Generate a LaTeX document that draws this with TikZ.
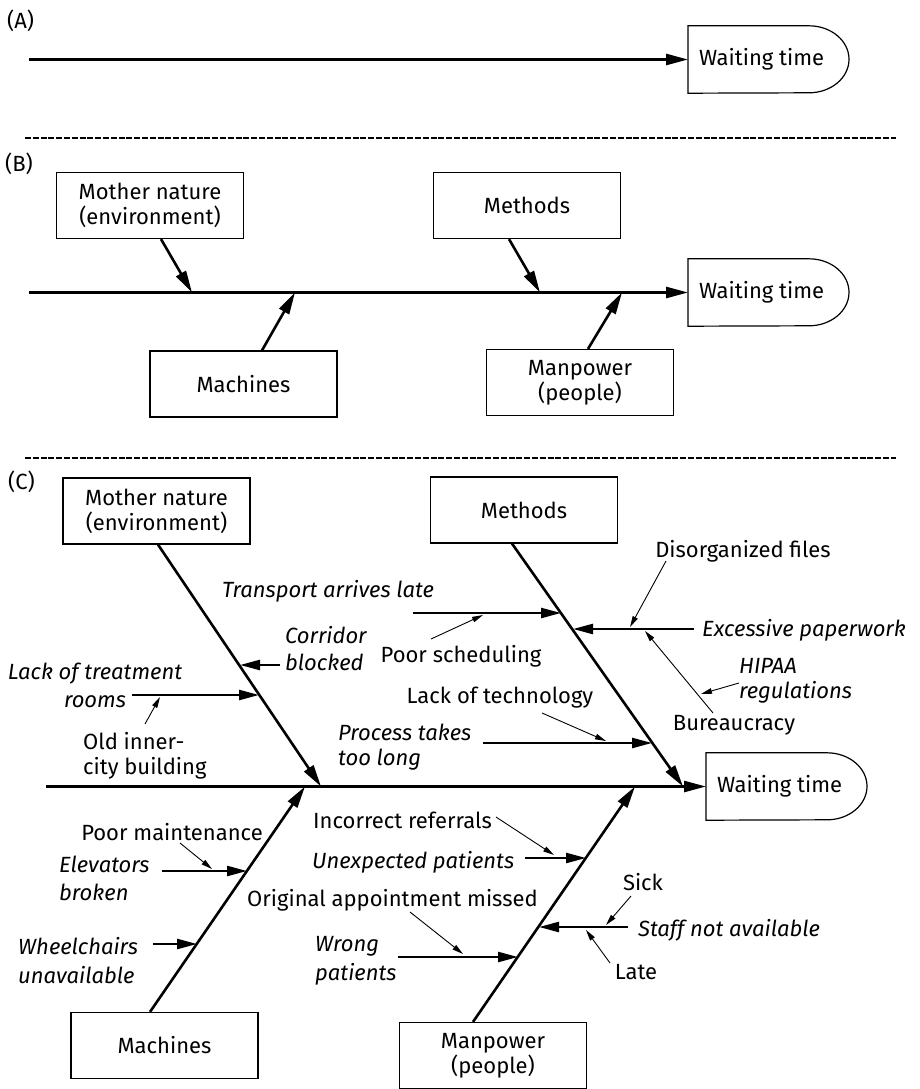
\documentclass[tikz,border=0pt]{standalone}
\usepackage{fontspec}
\setmainfont{Fira Sans}
\usetikzlibrary{positioning,arrows.meta}

\begin{document}
\begin{tikzpicture}[x=1pt, y=-1pt,
  every node/.style={font=\fontsize{22}{25}\selectfont},
  box/.style={draw, line width=1.2pt, minimum width=187pt, minimum height=66pt, align=center, inner sep=0pt},
  goal/.style={anchor=west, minimum height=67pt, inner xsep=11pt, inner ysep=0pt},
  goalline/.style={line width=1.2pt},
  bone/.style={-{Triangle[length=22pt,width=11pt]}, line width=2.6pt},
  cause/.style={-{Triangle[length=20pt,width=10pt]}, line width=2.4pt},
  sub/.style={-{Triangle[length=11pt,width=5.5pt]}, line width=0.9pt},
  lbl/.style={inner sep=0pt, align=left},
  cue/.style={lbl, font=\fontsize{22}{25}\selectfont\itshape},
  sep/.style={line width=1.3pt, dash pattern=on 6pt off 1.8pt},
  panel/.style={anchor=west, inner sep=0pt}
]
\useasboundingbox (0,0) rectangle (919,1089);

% (A)
\node[panel] (labA) at (7,21) {(A)};
\node[goal] (wtA) at (688,59.5) {Waiting time};
\coordinate (tailA) at (29,59.5);
\draw[bone] (tailA) -- (wtA.west);

\draw[sep] (25,138) -- (896,138);

% (B)
\node[panel] (labB) at (5,164) {(B)};
\node[box] (mnB) at (150,205.5) {Mother nature\\(environment)};
\node[box] (meB) at (527,205.5) {Methods};
\node[box] (maB) at (243.5,384) {Machines};
\node[box] (mpB) at (580,382.5) {Manpower\\(people)};
\node[goal] (wtB) at (688,292.5) {Waiting time};
\coordinate (tailB) at (29,292.5);
\coordinate (jmnB) at (192,292.5);
\coordinate (jmeB) at (540,292.5);
\coordinate (jmaB) at (295,292.5);
\coordinate (jmpB) at (622,292.5);
\draw[bone] (tailB) -- (wtB.west);
\draw[bone] (mnB.south) ++(11,0) -- (jmnB);
\draw[bone] (meB.south) ++(-18,0) -- (jmeB);
\draw[bone] (maB.north) ++(18.5,0) -- (jmaB);
\draw[bone] (mpB.north) ++(8,0) -- (jmpB);

\draw[sep] (25,458) -- (896,458);

% (C)
\node[panel] (labC) at (8,482) {(C)};
\node[box] (mnC) at (156.5,511) {Mother nature\\(environment)};
\node[box] (meC) at (524,510) {Methods};
\node[box] (maC) at (164.5,1045.5) {Machines};
\node[box] (mpC) at (493,1055.5) {Manpower\\(people)};
\node[goal] (wtC) at (706,786.5) {Waiting time};
\coordinate (tailC) at (46,786.5);
\coordinate (jmnC) at (321,786.5);
\coordinate (jmeC) at (683,786.5);
\coordinate (jmaC) at (305,786.5);
\coordinate (jmpC) at (635,786.5);
\draw[bone] (tailC) -- (wtC.west);
\draw[bone] (mnC.south) ++(1.5,0) -- (jmnC);
\draw[bone] (meC.south) ++(-12,0) -- (jmeC);
\draw[bone] (maC.north) ++(-14.5,0) -- (jmaC);
\draw[bone] (mpC.north) ++(-20,0) -- (jmpC);

\foreach \g in {wtA,wtB,wtC}
  \draw[goalline] (\g.north west) -- ++(121,0)
    arc[start angle=-90, end angle=90, x radius=40, y radius=33.5] -- (\g.south west) -- cycle;

% environment
\node[cue] (corr) at (285,649) [anchor=west] {Corridor\\[2pt]blocked};
\node[cue, align=center] (rooms) at (95,685) {Lack of treatment\\[3pt]rooms};
\node[lbl] (oldin) at (83,756) [anchor=west] {Old inner-\\city building};
\coordinate (corrS) at (280,665);
\coordinate (corrE) at (240,665);
\coordinate (roomS) at (132,695);
\coordinate (roomE) at (259,695);
\coordinate (oldS) at (145,724);
\coordinate (oldE) at (160,697);
\draw[cause] (corrS) -- (corrE);
\draw[cause] (roomS) -- (roomE);
\draw[sub] (oldS) -- (oldE);

% methods
\node[cue] (trans) at (328,591) {Transport arrives late};
\node[lbl] (poorsch) at (461,656) {Poor scheduling};
\node[lbl] (disorg) at (743,551) {Disorganized files};
\node[cue] (excess) at (702,630) [anchor=west] {Excessive paperwork};
\node[cue] (hipaa) at (739,681) [anchor=west] {HIPAA\\regulations};
\node[lbl] (bureau) at (734,725) {Bureaucracy};
\node[lbl] (lacktech) at (500,698) {Lack of technology};
\node[cue] (proc) at (338,747) [anchor=west] {Process takes\\too long};
\coordinate (transS) at (413,613);
\coordinate (transE) at (561,613);
\coordinate (excS) at (694,629);
\coordinate (excE) at (573,629);
\coordinate (procS) at (483,743);
\coordinate (procE) at (652,743);
\coordinate (schS) at (431,639);
\coordinate (schE) at (483,615);
\coordinate (disS) at (666,561);
\coordinate (disE) at (630,627);
\coordinate (burS) at (713,713);
\coordinate (burE) at (645,631);
\coordinate (hipS) at (739,683);
\coordinate (hipE) at (701,694);
\coordinate (techS) at (542,713);
\coordinate (techE) at (606,741);
\draw[cause] (transS) -- (transE);
\draw[cause] (excS) -- (excE);
\draw[cause] (procS) -- (procE);
\draw[sub] (schS) -- (schE);
\draw[sub] (disS) -- (disE);
\draw[sub] (burS) -- (burE);
\draw[sub] (hipS) -- (hipE);
\draw[sub] (techS) -- (techE);

% machines
\node[lbl] (maint) at (172,832) {Poor maintenance};
\node[cue] (elev) at (59,878) [anchor=west] {Elevators\\[3pt]broken};
\node[cue] (wheel) at (18,961) [anchor=west] {Wheelchairs\\[4pt]unavailable};
\coordinate (elevS) at (162,871);
\coordinate (elevE) at (247,871);
\coordinate (wheelS) at (153,944);
\coordinate (wheelE) at (197,944);
\coordinate (maintS) at (180,843);
\coordinate (maintE) at (212,869);
\draw[cause] (elevS) -- (elevE);
\draw[cause] (wheelS) -- (wheelE);
\draw[sub] (maintS) -- (maintE);

% manpower
\node[lbl] (incorr) at (313,820) [anchor=west] {Incorrect referrals};
\node[cue] (unexp) at (312,862) [anchor=west] {Unexpected patients};
\node[lbl] (origapp) at (247,900) [anchor=west] {Original appointment missed};
\node[cue] (wrong) at (315,961) [anchor=west] {Wrong\\[4pt]patients};
\node[cue] (staff) at (638,930) [anchor=west] {Staff not available};
\node[lbl] (sick) at (643,882) {Sick};
\node[lbl] (late) at (636,972) {Late};
\coordinate (unexS) at (525,858);
\coordinate (unexE) at (586,858);
\coordinate (wrongS) at (398,957);
\coordinate (wrongE) at (518,957);
\coordinate (staffS) at (628,927);
\coordinate (staffE) at (539,927);
\coordinate (incS) at (496,817);
\coordinate (incE) at (554,855);
\coordinate (origS) at (410,912);
\coordinate (origE) at (463,954);
\coordinate (sickS) at (631,896);
\coordinate (sickE) at (606,925);
\coordinate (lateS) at (610,963);
\coordinate (lateE) at (586,930);
\draw[cause] (unexS) -- (unexE);
\draw[cause] (wrongS) -- (wrongE);
\draw[cause] (staffS) -- (staffE);
\draw[sub] (incS) -- (incE);
\draw[sub] (origS) -- (origE);
\draw[sub] (sickS) -- (sickE);
\draw[sub] (lateS) -- (lateE);

\end{tikzpicture}
\end{document}
